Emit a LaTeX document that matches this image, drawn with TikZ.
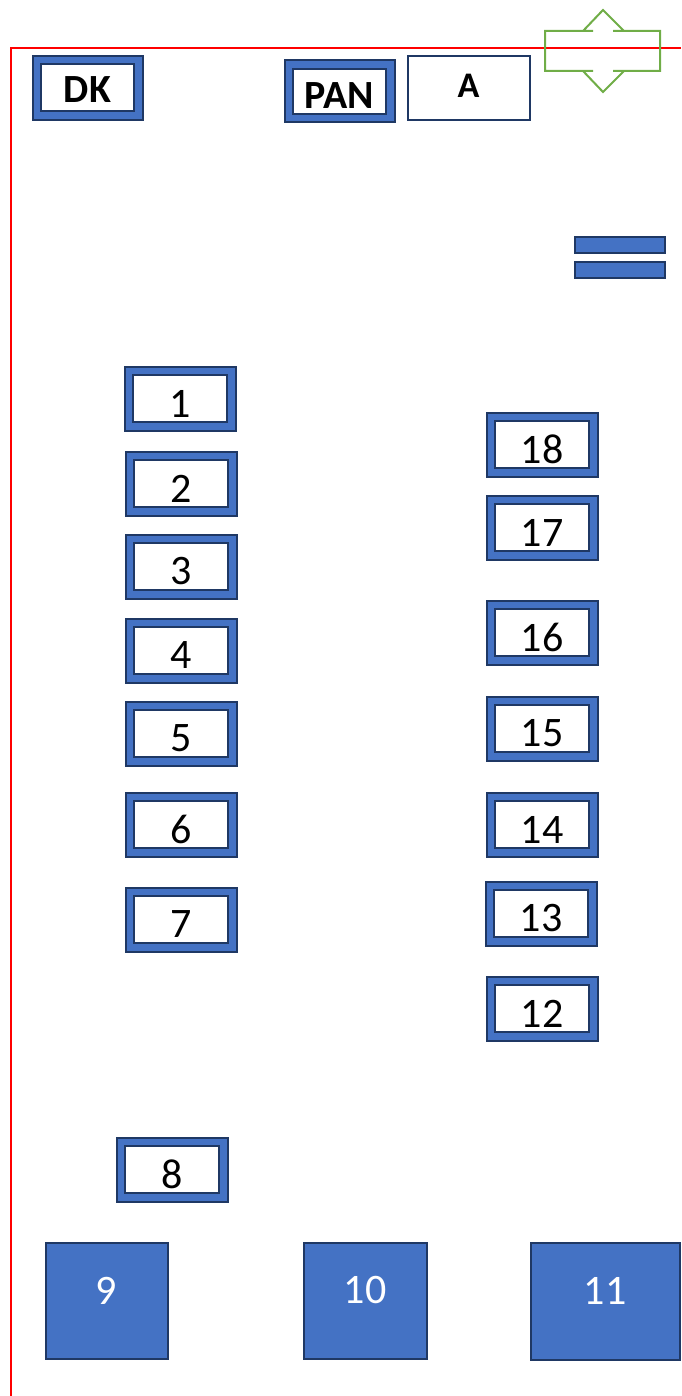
\documentclass[tikz,border=0pt]{standalone}
\usepackage{fontspec}
\setmainfont{Carlito}
\definecolor{boxblue}{HTML}{4472C4}
\definecolor{navy}{HTML}{1F3864}
\definecolor{arrgreen}{HTML}{70AD47}
\definecolor{framered}{HTML}{FF0000}
\tikzset{
  fbox/.style={draw=navy, fill=boxblue, line width=2pt, minimum width=111pt, minimum height=64pt, inner sep=0pt,
    path picture={\draw[navy, line width=2pt, fill=white]
      ([xshift=8.5pt,yshift=-8.5pt]path picture bounding box.north west) rectangle
      ([xshift=-8.5pt,yshift=8.5pt]path picture bounding box.south east);}},
  numlbl/.style={font=\fontsize{42}{42}\selectfont, text=black, yshift=-5pt},
  boldlbl/.style={font=\fontsize{40}{40}\selectfont\bfseries, text=black},
  square/.style={draw=navy, fill=boxblue, line width=2pt, inner sep=0pt},
  sqlbl/.style={font=\fontsize{42}{42}\selectfont, text=white, yshift=10pt},
  bar/.style={draw=navy, fill=boxblue, line width=2pt, minimum width=90pt, minimum height=16pt, inner sep=0pt},
}
\begin{document}
\begin{tikzpicture}[x=1pt,y=-1pt]
\useasboundingbox (0,0) rectangle (681,1396);
% red frame
\draw[framered, line width=2pt] (11,1396) -- (11,48) -- (681,48);
% green up-down arrow
\draw[arrgreen, line width=2pt, line join=miter] (545,31) -- (593,31) -- (583,31) -- (603,10) -- (624,31) -- (613,31) -- (660,31) -- (660,71) -- (613,71) -- (624,71) -- (603,92) -- (583,71) -- (593,71) -- (545,71) -- cycle;
% top boxes
\node[fbox, minimum width=110pt] (dk) at (87.5,88) {};
\node[boldlbl, yshift=-2pt] (dkt) at (dk.center) {DK};
\node[fbox, minimum width=110pt, minimum height=62pt] (pan) at (339.5,91.5) {};
\node[boldlbl, yshift=-4pt] (pant) at (pan.center) {PAN};
\node[draw=navy, fill=white, line width=2pt, minimum width=122pt, minimum height=64pt, inner sep=0pt] (a) at (468.5,88.5) {};
\node[font=\fontsize{36}{36}\selectfont\bfseries, yshift=3pt] (at) at (a.center) {A};
% bars
\node[bar] (bar1) at (619.5,245.5) {};
\node[bar] (bar2) at (619.5,270.5) {};
% left column
\node[fbox, label={[numlbl]center:1}] (b1) at (180,398.5) {};
\node[fbox, label={[numlbl]center:2}] (b2) at (181,483.5) {};
\node[fbox, label={[numlbl]center:3}] (b3) at (181,566.5) {};
\node[fbox, label={[numlbl]center:4}] (b4) at (181,650.5) {};
\node[fbox, label={[numlbl]center:5}] (b5) at (181,733.5) {};
\node[fbox, label={[numlbl]center:6}] (b6) at (181,824.5) {};
\node[fbox, label={[numlbl]center:7}] (b7) at (181,919.5) {};
\node[fbox, label={[numlbl]center:8}] (b8) at (172,1169.5) {};
% right column
\node[fbox, label={[numlbl]center:18}] (b18) at (542,444.5) {};
\node[fbox, label={[numlbl]center:17}] (b17) at (542,527.5) {};
\node[fbox, label={[numlbl]center:16}] (b16) at (542,632.5) {};
\node[fbox, label={[numlbl]center:15}] (b15) at (542,728.5) {};
\node[fbox, label={[numlbl]center:14}] (b14) at (542,824.5) {};
\node[fbox, label={[numlbl]center:13}] (b13) at (541,913.5) {};
\node[fbox, label={[numlbl]center:12}] (b12) at (542,1008.5) {};
% bottom squares
\node[square, minimum width=122pt, minimum height=116pt, label={[sqlbl]center:9}] (s9) at (106.5,1300.5) {};
\node[square, minimum width=123pt, minimum height=116pt, label={[sqlbl]center:10}] (s10) at (365,1300.5) {};
\node[square, minimum width=149pt, minimum height=117pt, label={[sqlbl]center:11}] (s11) at (605,1301) {};
\end{tikzpicture}
\end{document}
